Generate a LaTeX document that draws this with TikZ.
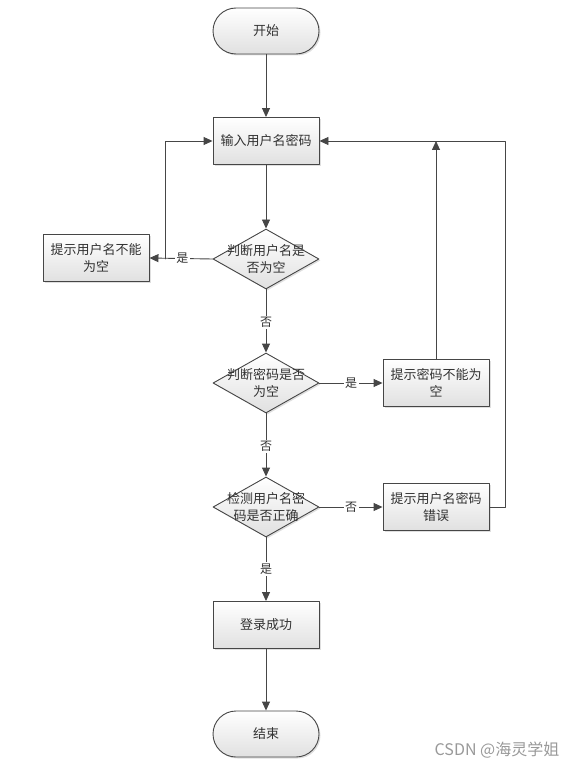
\documentclass[tikz,border=0pt]{standalone}
\usepackage{fontspec}
\setmainfont{Noto Sans CJK SC}
\usetikzlibrary{shapes.geometric,arrows.meta,shadows}
\definecolor{edgegray}{RGB}{70,70,70}
\definecolor{txtgray}{RGB}{50,50,50}
\tikzset{
    lab/.style={
        font=\fontsize{13}{17}\selectfont, text=txtgray, align=center
    },
    boxfill/.style={
        draw=edgegray, line width=0.9pt, top color=white, bottom color=black!12,
        drop shadow={opacity=0.25, shadow xshift=1.5pt, shadow yshift=-1.5pt}
    },
    procbox/.style={
        boxfill, rectangle, minimum width=106pt, minimum height=47pt, inner sep=0pt
    },
    termbox/.style={
        boxfill, rectangle, rounded corners=23pt, minimum width=106pt, minimum height=46pt, inner sep=0pt
    },
    decbox/.style={
        boxfill, diamond, minimum width=106pt, minimum height=60pt, inner sep=0pt
    },
    flow/.style={
        draw=edgegray, line width=0.9pt, -{Triangle[length=9pt,width=8pt]}
    },
    edgelab/.style={
        font=\fontsize{12}{14}\selectfont, text=txtgray, fill=white, inner sep=1.5pt
    }
}

\begin{document}
\begin{tikzpicture}[x=1pt,y=-1pt,line cap=round,line join=round]

% --- canvas ---
    \useasboundingbox (0,0) rectangle (581,770);

% --- main column ---
    \node[termbox] (start) at (266,31) {};
    \node[lab] at (start) {开始};
    \node[procbox] (input) at (266,141) {};
    \node[lab] at (input) {输入用户名密码};
    \node[decbox] (chkuser) at (266,259) {};
    \node[lab] at (chkuser) {判断用户名是\\否为空};
    \node[decbox] (chkpass) at (266,383) {};
    \node[lab] at (chkpass) {判断密码是否\\为空};
    \node[decbox] (chkboth) at (266,507) {};
    \node[lab] at (chkboth) {检测用户名密\\码是否正确};
    \node[procbox] (ok) at (266,625) {};
    \node[lab] at (ok) {登录成功};
    \node[termbox] (stop) at (266,734) {};
    \node[lab] at (stop) {结束};

% --- side messages ---
    \node[procbox] (msguser) at (96,258) {};
    \node[lab] at (msguser) {提示用户名不能\\为空};
    \node[procbox] (msgpass) at (436,383) {};
    \node[lab] at (msgpass) {提示密码不能为\\空};
    \node[procbox] (msgerr) at (436,507) {};
    \node[lab] at (msgerr) {提示用户名密码\\错误};

% helper points for the return lines
    \coordinate (jleft) at (165,259);
    \coordinate (jtop)  at (436,141);
    \coordinate (jright) at (505,141);

% --- connectors ---
    \draw[flow] (start) -- (input);
    \draw[flow] (input) -- (chkuser);
    \draw[flow] (chkuser) -- node[edgelab, pos=0.52] {否} (chkpass);
    \draw[flow] (chkpass) -- node[edgelab, pos=0.52] {否} (chkboth);
    \draw[flow] (chkboth) -- node[edgelab, pos=0.5] {是} (ok);
    \draw[flow] (ok) -- (stop);

    \draw[flow] (chkuser.west) -- node[edgelab, pos=0.48] {是} (msguser.east);
    \draw[flow] (jleft) |- (input.west);

    \draw[flow] (chkpass.east) -- node[edgelab] {是} (msgpass.west);
    \draw[flow] (msgpass.north) -- (jtop);

    \draw[flow] (chkboth.east) -- node[edgelab] {否} (msgerr.west);
    \draw[flow] (msgerr.east) -| (jright) -- (input.east);

% watermark
    \node[font=\fontsize{16}{18}\selectfont, text=black!40] (mark) at (497,750) {CSDN @海灵学姐};

\end{tikzpicture}
\end{document}
